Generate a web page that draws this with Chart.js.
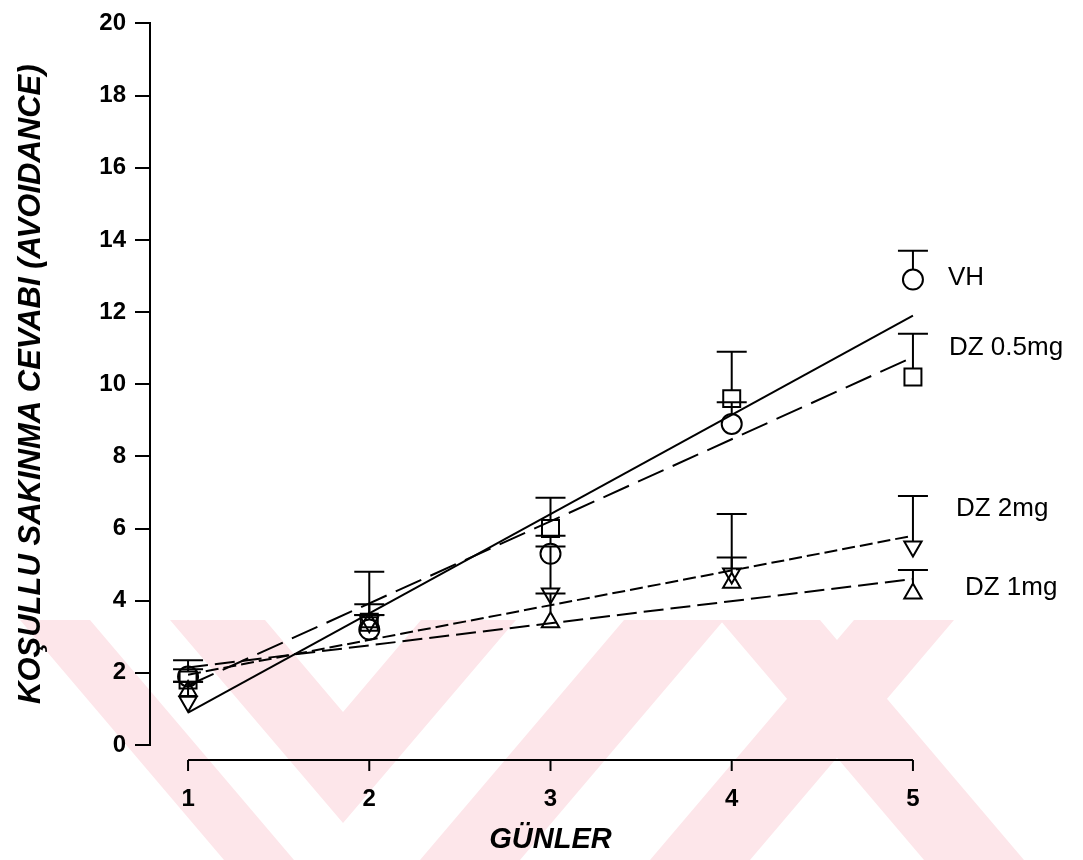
<!DOCTYPE html>
<html>
<head>
<meta charset="utf-8">
<title>Koşullu sakınma cevabı</title>
<script src="https://cdn.jsdelivr.net/npm/chart.js@4.4.1/dist/chart.umd.min.js"></script>
<style>
  html, body { margin: 0; padding: 0; background: #fff; }
  #wrap { width: 1083px; height: 860px; }
</style>
</head>
<body>
<div id="wrap"><canvas id="avoidChart" width="1083" height="860"></canvas></div>
<script>
// günler ve grup ortalamaları (üst hata çubukları SEM)
const days = [1, 2, 3, 4, 5];

const vhMean   = [1.9, 3.2, 5.3, 8.9, 12.9];
const vhErr    = [0.2, 0.4, 0.5, 0.6, 0.8];
const dz05Mean = [1.8, 3.4, 6.0, 9.6, 10.2];
const dz05Err  = [0.55, 1.4, 0.85, 1.3, 1.2];
const dz1Mean  = [1.5, 3.4, 3.4, 4.5, 4.2];
const dz1Err   = [0.25, 0.2, 0.8, 0.7, 0.65];
const dz2Mean  = [1.2, 3.4, 4.2, 4.75, 5.5];
const dz2Err   = [0.55, 0.5, 1.3, 1.65, 1.4];

// regresyon doğrularının 1. ve 5. gündeki değerleri
const vhFit   = [0.9, 11.9];
const dz05Fit = [1.65, 10.75];
const dz1Fit  = [2.15, 4.6];
const dz2Fit  = [1.95, 5.8];

const seriesNames = ['VH', 'DZ 0.5mg', 'DZ 2mg', 'DZ 1mg'];
const yTicks = [0, 2, 4, 6, 8, 10, 12, 14, 16, 18, 20];

const FONT = "'Liberation Sans', Arial, Helvetica, sans-serif";

function markerSet(label, means, errors, style, rotation, radius, capOffset) {
  return {
    label: label,
    data: days.map((d, i) => ({ x: d, y: means[i] })),
    errors: errors,
    capOffset: capOffset,
    showLine: false,
    pointStyle: style,
    pointRotation: rotation,
    pointRadius: radius,
    pointBorderColor: '#000',
    pointBackgroundColor: 'rgba(0,0,0,0)',
    pointBorderWidth: 2
  };
}

function fitSet(label, fit, dash) {
  return {
    label: label,
    data: [{ x: days[0], y: fit[0] }, { x: days[days.length - 1], y: fit[1] }],
    showLine: true,
    borderColor: '#000',
    borderWidth: 2,
    borderDash: dash,
    pointRadius: 0,
    fill: false
  };
}

// soluk pembe arka plan filigranı
const watermark = {
  id: 'watermark',
  beforeDraw(chart) {
    const ctx = chart.ctx;
    const top = 620, bottom = chart.height;
    const run = (bottom - top) * 0.85;
    ctx.save();
    ctx.fillStyle = '#fde6ea';
    const band = (x0, w, dir) => {
      ctx.beginPath();
      ctx.moveTo(x0, top);
      ctx.lineTo(x0 + w, top);
      ctx.lineTo(x0 + w + dir * run, bottom);
      ctx.lineTo(x0 + dir * run, bottom);
      ctx.closePath();
      ctx.fill();
    };
    band(20, 70, 1);
    // V
    ctx.beginPath();
    ctx.moveTo(170, top); ctx.lineTo(265, top); ctx.lineTo(343, 712);
    ctx.lineTo(421, top); ctx.lineTo(516, top); ctx.lineTo(343, 823);
    ctx.closePath();
    ctx.fill();
    band(624, 100, -1);
    band(854, 100, -1);
    band(720, 100, 1);
    ctx.restore();
  }
};

// x ekseni: 1..5 arası ayrı çizgi, aşağı doğru çentikler
const xAxisLine = {
  id: 'xAxisLine',
  afterDraw(chart) {
    const { ctx, chartArea, scales } = chart;
    const y = chartArea.bottom + 15;
    const x0 = scales.x.getPixelForValue(days[0]);
    const x1 = scales.x.getPixelForValue(days[days.length - 1]);
    ctx.save();
    ctx.strokeStyle = '#000';
    ctx.lineWidth = 2;
    ctx.beginPath();
    ctx.moveTo(x0, y);
    ctx.lineTo(x1, y);
    days.forEach(d => {
      const px = scales.x.getPixelForValue(d);
      ctx.moveTo(px, y);
      ctx.lineTo(px, y + 11);
    });
    ctx.stroke();
    ctx.restore();
  }
};

// yalnızca yukarı doğru hata çubukları
const errorBars = {
  id: 'errorBars',
  afterDatasetsDraw(chart) {
    const { ctx, scales } = chart;
    ctx.save();
    ctx.strokeStyle = '#000';
    ctx.lineWidth = 2;
    chart.data.datasets.forEach(ds => {
      if (!ds.errors) return;
      ds.data.forEach((p, i) => {
        const px = scales.x.getPixelForValue(p.x);
        const py = scales.y.getPixelForValue(p.y) - ds.capOffset;
        const cy = scales.y.getPixelForValue(p.y + ds.errors[i]);
        ctx.beginPath();
        if (cy < py) {
          ctx.moveTo(px, py);
          ctx.lineTo(px, cy);
        }
        ctx.moveTo(px - 15, cy);
        ctx.lineTo(px + 15, cy);
        ctx.stroke();
      });
    });
    ctx.restore();
  }
};

// sağ taraftaki grup adları
const seriesLabels = {
  id: 'seriesLabels',
  afterDraw(chart, args, opts) {
    const { ctx, scales } = chart;
    ctx.save();
    ctx.fillStyle = '#000';
    ctx.font = '26px ' + FONT;
    ctx.textBaseline = 'middle';
    ctx.textAlign = 'left';
    opts.items.forEach(it => {
      const x = scales.x.getPixelForValue(days[days.length - 1]) + it.dx;
      ctx.fillText(it.text, x, scales.y.getPixelForValue(it.at));
    });
    ctx.restore();
  }
};

new Chart(document.getElementById('avoidChart'), {
  type: 'scatter',
  data: {
    datasets: [
      markerSet(seriesNames[0], vhMean, vhErr, 'circle', 0, 10, 10),
      markerSet(seriesNames[1], dz05Mean, dz05Err, 'rect', 0, 12, 8.5),
      markerSet(seriesNames[2], dz2Mean, dz2Err, 'triangle', 180, 10, 5),
      markerSet(seriesNames[3], dz1Mean, dz1Err, 'triangle', 0, 10, 10),
      fitSet(seriesNames[0], vhFit, []),
      fitSet(seriesNames[1], dz05Fit, [28, 10]),
      fitSet(seriesNames[2], dz2Fit, [13, 5]),
      fitSet(seriesNames[3], dz1Fit, [20, 7])
    ]
  },
  options: {
    responsive: false,
    animation: false,
    layout: { padding: { top: 19, right: 132, bottom: 0, left: 0 } },
    plugins: {
      legend: { display: false },
      tooltip: { enabled: false },
      seriesLabels: {
        items: [
          { text: seriesNames[0], at: 12.95, dx: 35 },
          { text: seriesNames[1], at: 11.0, dx: 36 },
          { text: seriesNames[2], at: 6.55, dx: 43 },
          { text: seriesNames[3], at: 4.35, dx: 52 }
        ]
      }
    },
    scales: {
      x: {
        type: 'linear',
        min: 0.79,
        max: 5.21,
        afterBuildTicks: s => { s.ticks = days.map(v => ({ value: v })); },
        afterFit: s => { s.height = 115; },
        grid: { display: false },
        border: { display: false },
        ticks: { padding: 32, color: '#000', font: { size: 24, weight: 'bold', family: FONT } },
        title: {
          display: true,
          text: 'GÜNLER',
          color: '#000',
          font: { size: 29, weight: 'bold', style: 'italic', family: FONT },
          padding: { top: 0, bottom: 3 }
        }
      },
      y: {
        min: 0,
        max: 20,
        afterBuildTicks: s => { s.ticks = yTicks.map(v => ({ value: v })); },
        afterFit: s => { s.width = 150; },
        grid: { drawOnChartArea: false, drawTicks: true, tickLength: 15, color: '#000', lineWidth: 2 },
        border: { display: true, color: '#000', width: 2 },
        ticks: { padding: 9, color: '#000', font: { size: 24, weight: 'bold', family: FONT } },
        title: {
          display: true,
          text: 'KOŞULLU SAKINMA CEVABI (AVOIDANCE)',
          color: '#000',
          font: { size: 31, weight: 'bold', style: 'italic', family: FONT },
          padding: { top: 13, bottom: 0 }
        }
      }
    }
  },
  plugins: [watermark, xAxisLine, errorBars, seriesLabels]
});
</script>
</body>
</html>
